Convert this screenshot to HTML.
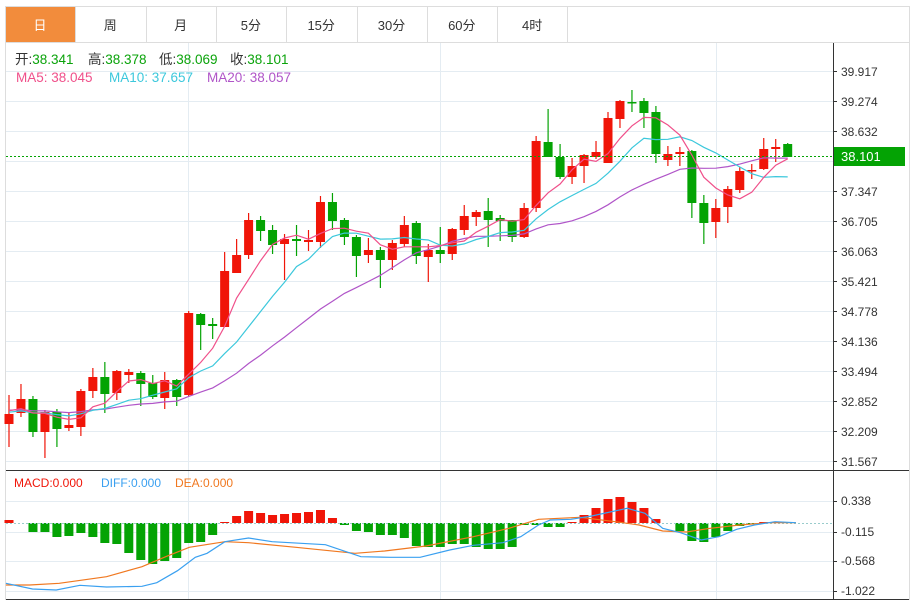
<!DOCTYPE html>
<html><head><meta charset="utf-8">
<style>
body{margin:0;background:#fff;width:916px;height:604px;overflow:hidden;font-family:"Liberation Sans","Noto Sans CJK SC",sans-serif}
svg{position:absolute;left:0;top:0}
</style></head><body>
<svg id="s" width="916" height="604" xmlns="http://www.w3.org/2000/svg"></svg>
<script>
const S=document.getElementById('s');let h='';
const tabs=['日','周','月','5分','15分','30分','60分','4时'];
h+='<line x1="5" y1="6.5" x2="910" y2="6.5" stroke="#ddd"/>';
for(let i=0;i<8;i++){const x0=5+i*70.3,x1=Math.round(x0+70.3);
 if(i==0)h+=`<rect x="5" y="7" width="70" height="35" fill="#f28c3c"/>`;
 h+=`<line x1="${x1+.5}" y1="7" x2="${x1+.5}" y2="42" stroke="#ddd"/>`;
 h+=`<text x="${x0+35}" y="30" font-size="13" text-anchor="middle" fill="${i==0?'#fff':'#333'}">${tabs[i]}</text>`;}
h+='<line x1="5" y1="42.5" x2="910" y2="42.5" stroke="#ddd"/>';
h+='<line x1="5.5" y1="6" x2="5.5" y2="600" stroke="#ddd"/><line x1="909.5" y1="6" x2="909.5" y2="600" stroke="#ddd"/>';
const labs=['39.917','39.274','38.632','','37.347','36.705','36.063','35.421','34.778','34.136','33.494','32.852','32.209','31.567'];
const ly=[71,101,131,161,191,221,251,281,311,341,371,401,431,461];
for(let i=0;i<ly.length;i++){h+=`<line x1="6" y1="${ly[i]+.5}" x2="833" y2="${ly[i]+.5}" stroke="#e4ecf2"/>`;
 if(labs[i])h+=`<line x1="833" y1="${ly[i]+.5}" x2="837" y2="${ly[i]+.5}" stroke="#333"/><text x="841" y="${ly[i]+5}" font-size="12" fill="#333">${labs[i]}</text>`;}
for(const x of [188,440,716])h+=`<line x1="${x+.5}" y1="43" x2="${x+.5}" y2="600" stroke="#e4ecf2"/>`;
h+='<line x1="833.5" y1="43" x2="833.5" y2="600" stroke="#333"/>';
h+='<line x1="6" y1="470.5" x2="909" y2="470.5" stroke="#333"/>';
h+='<line x1="6" y1="599.5" x2="909" y2="599.5" stroke="#333"/>';
const C=[['r',414,424,395,447],['r',399,413,384,417],['g',399,432,396,437],['r',412,432,410,458],['g',412,429,409,447],['r',425,428,413,431],['r',391,427,389,436],['r',377,391,368,398],['g',377,394,362,413],['r',371,393,370,400],['r',372,375,369,383],['g',373,384,371,406],['g',383,397,375,399],['r',380,398,372,409],['g',380,397,379,406],['r',313,395,311,396],['g',314,325,313,350],['g',324,326,318,339],['r',271,327,252,327],['r',255,273,239,273],['r',220,255,213,259],['g',220,231,216,241],['g',230,245,225,254],['r',239,244,234,280],['g',239,241,225,256],['r',240,242,230,251],['r',202,242,196,248],['g',202,221,193,230],['g',220,237,218,245],['g',237,256,235,277],['r',250,255,238,263],['g',250,260,247,288],['r',243,260,240,270],['r',225,244,216,247],['g',223,256,221,264],['r',250,257,244,282],['g',250,254,227,263],
['r',229,254,228,260],['r',216,230,205,235],['r',212,217,210,226],['g',211,220,198,247],['g',218,221,215,241],['g',220,237,220,242],['r',208,237,203,238],['r',141,208,136,212],['g',142,157,109,157],['g',157,177,144,179],['r',166,177,158,184],['r',155,166,154,183],['r',152,157,141,159],['r',118,163,112,163],['r',101,119,100,128],['g',102,103,90,112],['g',101,113,98,128],['g',112,154,106,163],['r',154,160,146,166],['r',152,154,147,166],['g',151,203,150,218],['g',203,223,195,244],['r',208,222,199,238],['r',189,207,186,223],['r',171,190,167,193],['r',170,171,164,179],['r',149,169,138,170],['r',147,149,139,162],['g',144,157,143,157]];
const X=i=>9+i*11.98;const RED='#f01508',GRN='#04a304';
const cl=C.map(c=>c[0]=='r'?c[1]:c[2]);
function ma(n,pre){let p=[];for(let i=0;i<cl.length;i++){let s=0,k=0;for(let j=Math.max(0,i-n+1);j<=i;j++){s+=cl[j];k++;}
 s+=(n-k)*pre;p.push([X(i),(s/n)]);}return p;}
function pl(p,col,w){return `<polyline fill="none" stroke="${col}" stroke-width="${w||1.2}" points="${p.map(q=>q[0].toFixed(1)+','+q[1].toFixed(1)).join(' ')}"/>`;}
let cs='';
C.forEach((c,i)=>{const x=X(i),col=c[0]=='r'?RED:GRN;
 cs+=`<line x1="${x}" y1="${c[3]}" x2="${x}" y2="${c[4]}" stroke="${col}" stroke-width="1.2"/>`;
 cs+=`<rect x="${x-4.5}" y="${c[1]}" width="9" height="${Math.max(1.5,c[2]-c[1])}" fill="${col}"/>`;});
h+=cs;
h+=pl(ma(20,410),'#b055c8');h+=pl(ma(10,412),'#3cc8dc');h+=pl(ma(5,410),'#f0508a');
h+='<line x1="6" y1="156.5" x2="833" y2="156.5" stroke="#04a304" stroke-dasharray="2,2"/>';
h+='<rect x="834" y="147" width="71" height="19" fill="#04a304"/><text x="841" y="161" font-size="13" fill="#fff">38.101</text>';
const lg=[['开',15,'38.341'],['高',88,'38.378'],['低',159,'38.069'],['收',230,'38.101']];
lg.forEach(l=>{h+=`<text x="${l[1]}" y="64" font-size="13.5" fill="#333">${l[0]}:<tspan fill="#0aa30a">${l[2]}</tspan></text>`;});
h+='<text x="16" y="82" font-size="13.5" fill="#f0508a">MA5: 38.045</text><text x="109" y="82" font-size="13.5" fill="#3cc8dc">MA10: 37.657</text><text x="207" y="82" font-size="13.5" fill="#b055c8">MA20: 38.057</text>';
const ml=[['0.338',501],['-0.115',532],['-0.568',561],['-1.022',591]];
ml.forEach(m=>{h+=`<line x1="6" y1="${m[1]+.5}" x2="833" y2="${m[1]+.5}" stroke="#e4ecf2"/><line x1="833" y1="${m[1]+.5}" x2="837" y2="${m[1]+.5}" stroke="#333"/><text x="841" y="${m[1]+4}" font-size="12" fill="#333">${m[0]}</text>`});
h+='<text x="14" y="487" font-size="12" fill="#f01508">MACD:0.000</text><text x="101" y="487" font-size="12" fill="#3aa0f0">DIFF:0.000</text><text x="175" y="487" font-size="12" fill="#f07820">DEA:0.000</text>';
const Hs=[3,0,-9,-9,-14,-13,-10,-14,-20,-21,-30,-37,-41,-38,-35,-20,-19,-12,1,7,12,10,8,9,10,11,13,5,-2,-8,-9,-12,-12,-15,-23,-24,-24,-21,-21,-24,-26,-26,-24,-2,-2,-4,-4,1,8,15,24,26,21,15,4,0,-8,-18,-19,-14,-8,-3,-1,1,1,0];
const Z=523;
Hs.forEach((v,i)=>{if(!v)return;const x=X(i);h+=`<rect x="${x-4.5}" y="${v>0?Z-v:Z}" width="9" height="${Math.abs(v)}" fill="${v>0?RED:GRN}"/>`;});
h+=`<line x1="6" y1="${Z+.5}" x2="833" y2="${Z+.5}" stroke="#9cc" stroke-dasharray="2,2"/>`;
const cv=a=>a.map(p=>[p[0]/1.69,p[1]/3+470]);
const DIF=[[10,340],[55,357],[95,360],[135,346],[180,351],[240,349],[265,338],[300,302],[330,262],[350,250],[380,215],[420,204],[460,215],[550,224],[610,260],[660,262],[710,262],[760,240],[800,226],[850,218],[880,200],[910,165],[930,150],[965,148],[1000,138],[1060,115],[1090,130],[1120,175],[1150,188],[1185,210],[1215,200],[1245,178],[1275,165],[1310,155],[1345,158]];
const DEA=[[10,345],[50,345],[100,340],[180,320],[240,290],[280,260],[320,232],[380,215],[420,218],[500,232],[600,250],[650,243],[720,228],[800,200],[860,175],[910,148],[980,142],[1040,155],[1080,165],[1120,183],[1160,186],[1200,175],[1250,165],[1300,158],[1345,158]];
h+=pl(cv(DEA),'#f07820');h+=pl(cv(DIF),'#3aa0f0');
S.innerHTML=h;
</script>
</body></html>
